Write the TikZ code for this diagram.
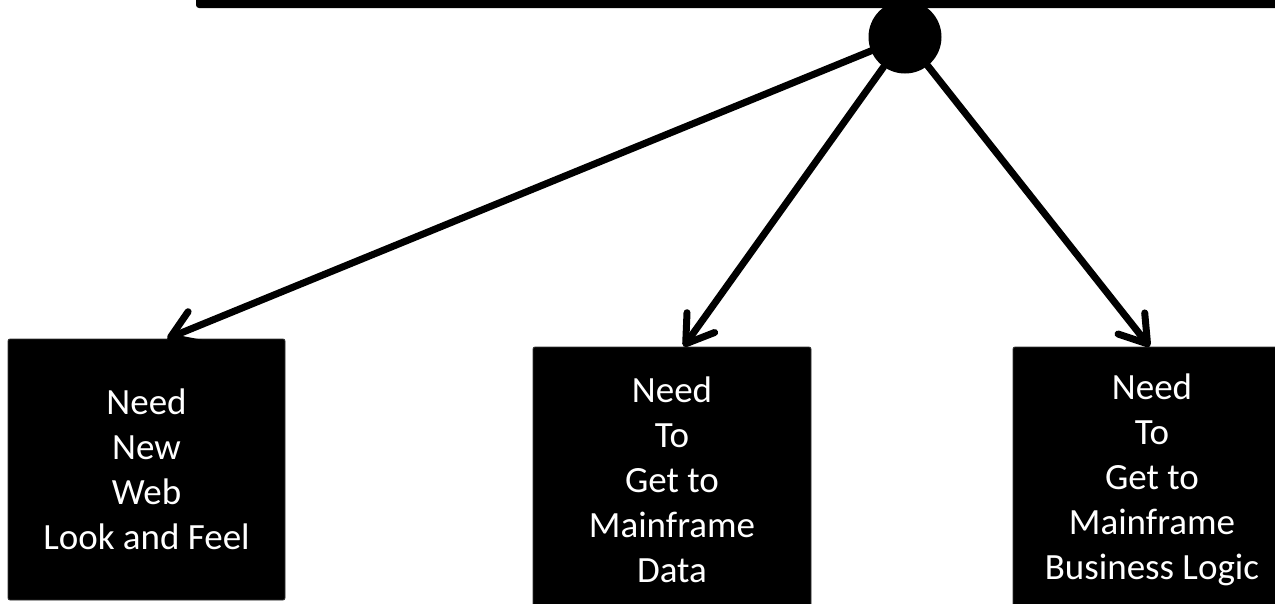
\documentclass[tikz,border=0pt]{standalone}
\usepackage{fontspec}
\setmainfont{Carlito}
\usetikzlibrary{arrows.meta}

\begin{document}
\begin{tikzpicture}[x=1pt, y=-1pt,
    every node/.style={font=\fontsize{37}{45}\selectfont},
    needbox/.style={rectangle, fill=black, draw=black!80, line width=0.8pt,
      rounded corners=2pt, text=white, align=center, inner sep=0pt},
    link/.style={line width=7pt, line cap=round,
      -{Straight Barb[length=26pt, width=34pt, round]}}]
  \clip (0,0) rectangle (1275,603);
  % top bar and hub
  \fill[rounded corners=3pt] (196,-12) rectangle (1295,8);
  \node[circle, fill=black, minimum size=73pt, inner sep=0pt] (hub) at (905,37) {};
  % the three needs
  \node[needbox, minimum width=277pt, minimum height=261pt] (look) at (146.5,469.5)
    {Need\\New\\Web\\Look and Feel};
  \node[needbox, minimum width=278pt, minimum height=266pt] (data) at (672,480)
    {Need\\To\\Get to\\Mainframe\\Data};
  \node[needbox, minimum width=278pt, minimum height=266pt] (logic) at (1152,480)
    {Need\\To\\Get to\\Mainframe\\Business Logic};
  % links
  \draw[link] (hub) -- (look.81);
  \draw[link] (hub) -- (data.85);
  \draw[link] (hub) -- (logic.91);
\end{tikzpicture}
\end{document}
